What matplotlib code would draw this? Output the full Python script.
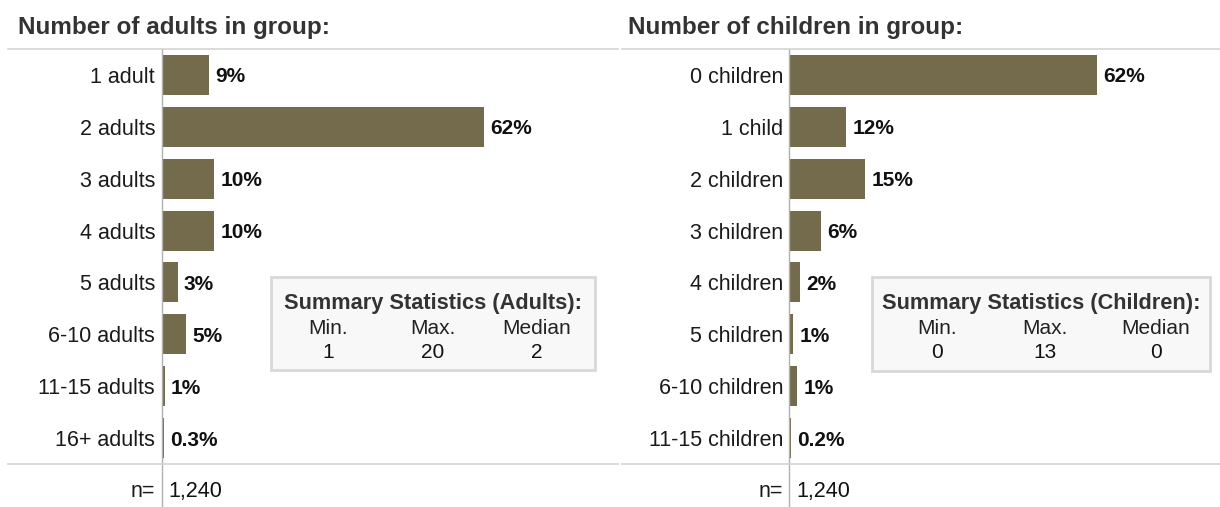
import matplotlib.pyplot as plt
from matplotlib.lines import Line2D
from matplotlib.patches import Rectangle

plt.rcParams['font.family'] = ['Liberation Sans', 'DejaVu Sans']

# data
adult_cats = ['1 adult', '2 adults', '3 adults', '4 adults', '5 adults',
              '6-10 adults', '11-15 adults', '16+ adults']
adult_pct = [9, 62, 10, 10, 3, 4.6, 0.5, 0.3]
adult_lbl = ['9%', '62%', '10%', '10%', '3%', '5%', '1%', '0.3%']
adult_stats = ['1', '20', '2']

child_cats = ['0 children', '1 child', '2 children', '3 children', '4 children',
              '5 children', '6-10 children', '11-15 children']
child_pct = [62, 11.4, 15.2, 6.3, 2.1, 0.6, 1.4, 0.2]
child_lbl = ['62%', '12%', '15%', '6%', '2%', '1%', '1%', '0.2%']
child_stats = ['0', '13', '0']

stat_names = ['Min.', 'Max.', 'Median']
n_total = '1,240'

W, H = 1220, 507
BAR = '#736b4b'
GRID = '#d4d4d4'
AXIS = '#b0b0b0'

fig = plt.figure(figsize=(W / 100, H / 100), dpi=100)


def px(x, y):
    # pixel (from top-left) -> figure coords
    return x / W, 1 - y / H


def panel(x0, x1, xmax, cats, vals, labels, title, tx, stats, sx, stat_title, box):
    ax = fig.add_axes([x0 / W, 1 - 464 / H, (x1 - x0) / W, (464 - 49) / H])
    ypos = list(range(len(cats)))
    ax.barh(ypos, vals, height=0.77, color=BAR, edgecolor='none')
    ax.set_ylim(len(cats) - 0.5, -0.5)
    ax.set_xlim(0, xmax)
    ax.set_yticks(ypos)
    ax.set_yticklabels(cats, fontsize=15.5, color='#1a1a1a')
    ax.tick_params(axis='y', length=0, pad=5)
    ax.set_xticks([])
    for s in ax.spines.values():
        s.set_visible(False)
    for y, v, l in zip(ypos, vals, labels):
        ax.annotate(l, (v, y), xytext=(4.5, 0), textcoords='offset points',
                    va='center_baseline', ha='left', fontsize=15,
                    fontweight='bold', color='#111111')

    # title
    fig.text(*px(tx, 25), title, fontsize=17.5, fontweight='bold', color='#333333',
             va='center_baseline', ha='left')
    # stats box
    bx0, by0, bx1, by1 = box
    fig.patches.append(Rectangle(px(bx0, by1), (bx1 - bx0) / W, (by1 - by0) / H,
                                 transform=fig.transFigure, facecolor='#f8f8f8',
                                 edgecolor='#d8d8d8', linewidth=2, zorder=5))
    cx = (bx0 + bx1) / 2
    fig.text(*px(cx, 301), stat_title, fontsize=15.7, fontweight='bold',
             color='#333333', ha='center', va='center_baseline', zorder=6)
    for name, val, x in zip(stat_names, stats, sx):
        fig.text(*px(x, 327), name, fontsize=15, color='#222222',
                 ha='center', va='center_baseline', zorder=6)
        fig.text(*px(x, 350), val, fontsize=15, color='#111111',
                 ha='center', va='center_baseline', zorder=6)
    # n row
    fig.text(*px(x0 - 7, 489), 'n=', fontsize=15.5, color='#1a1a1a',
             ha='right', va='center_baseline')
    fig.text(*px(x0 + 6, 489), n_total, fontsize=15.5, color='#111111',
             ha='left', va='center_baseline')
    # axis line
    fig.add_artist(Line2D([(x0 - 0.5) / W] * 2, [1 - 49 / H, 0],
                          color=AXIS, linewidth=1, transform=fig.transFigure))


panel(162, 620, 88.2, adult_cats, adult_pct, adult_lbl,
      'Number of adults in group:', 18, adult_stats, [328, 433, 537],
      'Summary Statistics (Adults):', (271, 277, 595, 370))
panel(790, 1220, 86.9, child_cats, child_pct, child_lbl,
      'Number of children in group:', 628, child_stats, [937, 1045, 1156],
      'Summary Statistics (Children):', (872, 277, 1210, 371))

# separator lines
for (xa, xb) in [(8, 618), (622, 1220)]:
    for y in (49, 464):
        fig.add_artist(Line2D([xa / W, xb / W], [1 - y / H] * 2, color=GRID,
                              linewidth=1.2, transform=fig.transFigure))

fig.savefig('out.png', dpi=100, facecolor='white')
